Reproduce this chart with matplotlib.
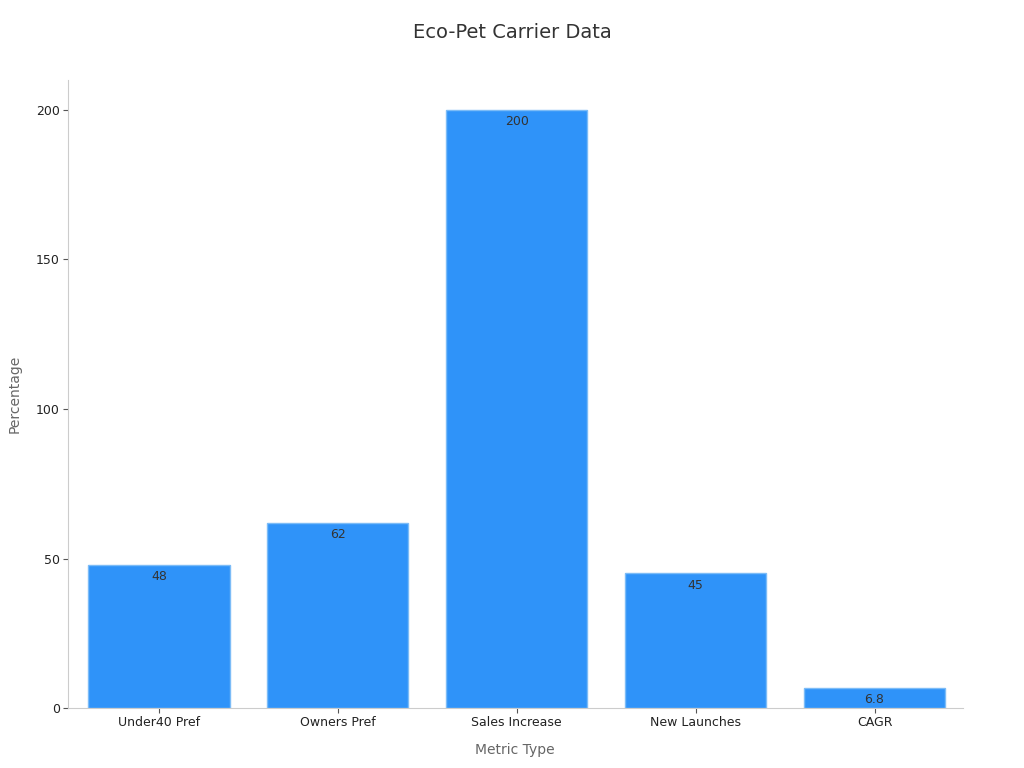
import matplotlib
matplotlib.use("Agg")
import matplotlib.pyplot as plt

categories = ["Under40 Pref", "Owners Pref", "Sales Increase", "New Launches", "CAGR"]
values = [48, 62, 200, 45, 6.8]
labels = ["48", "62", "200", "45", "6.8"]

fig = plt.figure(figsize=(10.24, 7.68), dpi=100)
ax = fig.add_axes([0.0664, 0.078, 0.8736, 0.818])

bars = ax.bar(range(len(categories)), values, width=0.79, color="#2f93f9",
              edgecolor="#7cbcf7", linewidth=1)
for b, lab in zip(bars, labels):
    ax.annotate(lab, (b.get_x() + b.get_width() / 2, b.get_height()),
                xytext=(0, -4), textcoords="offset points", ha="center", va="top",
                fontsize=9, color="#333333")

ax.set_xlim(-0.508, 4.492)
ax.set_ylim(0, 210)
ax.set_yticks([0, 50, 100, 150, 200])
ax.set_xticks(range(len(categories)))
ax.set_xticklabels(categories)
ax.tick_params(labelsize=9, colors="#222222", pad=2.5)
ax.tick_params(axis="both", color="#555555", length=3.5)

for s in ["top", "right"]:
    ax.spines[s].set_visible(False)
ax.spines["left"].set_color("#cccccc")
ax.spines["bottom"].set_color("#cccccc")

ax.set_xlabel("Metric Type", fontsize=10, color="#666666", labelpad=10)
ax.set_ylabel("Percentage", fontsize=10, color="#666666", labelpad=10)
fig.suptitle("Eco-Pet Carrier Data", fontsize=14, color="#333333", y=0.97)

fig.savefig("out.png", dpi=100)
